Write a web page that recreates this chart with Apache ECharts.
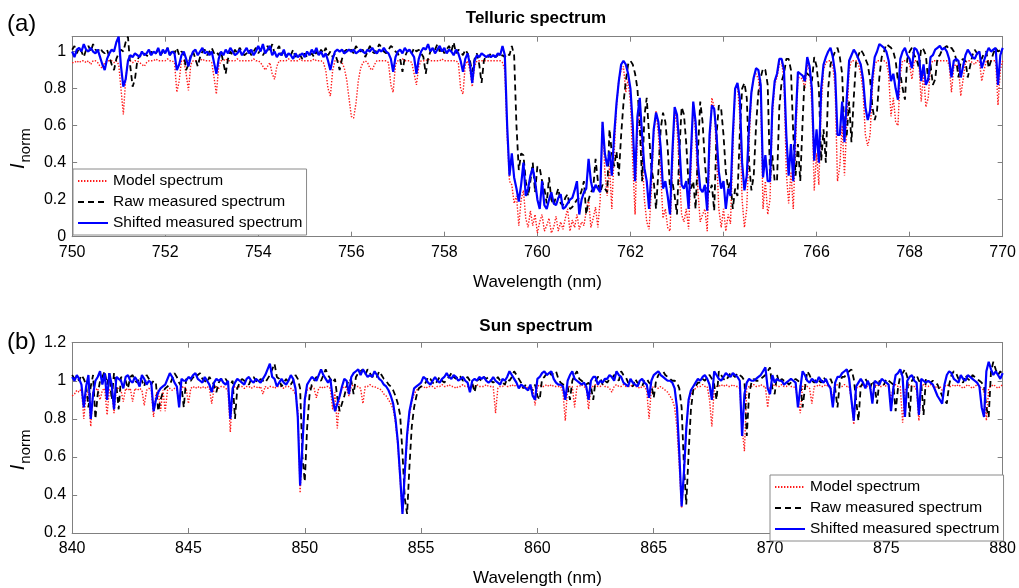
<!DOCTYPE html>
<html>
<head>
<meta charset="utf-8">
<script src="https://cdn.jsdelivr.net/npm/echarts@6/dist/echarts.min.js"></script>
<style>html,body{margin:0;padding:0;background:#fff}#c{width:1019px;height:588px}</style>
</head>
<body>
<div id="c"></div>
<script>
// ---------- DATA ----------
const seriesNames = ['Model spectrum', 'Raw measured spectrum', 'Shifted measured spectrum'];

// Panel (a) Telluric spectrum: sampled every 0.05 nm from 750 to 770 nm
const telluricStart = 750, telluricStep = 0.05;
const telluricXTicks = [750, 770, 2];
const telluricYTicks = [0, 1.08, 0.2];
const telluricModel = [
0.94,0.94,0.95,0.94,0.95,0.95,0.94,0.95,0.93,0.95,0.95,0.94,0.92,0.91,0.94,0.95,0.95,0.95,0.94,0.95,
0.93,0.80,0.66,0.85,0.95,0.95,0.94,0.95,0.95,0.94,0.93,0.92,0.94,0.95,0.95,0.95,0.96,0.95,0.95,0.95,
0.95,0.96,0.95,0.95,0.94,0.78,0.84,0.95,0.95,0.88,0.79,0.93,0.95,0.95,0.95,0.95,0.96,0.95,0.95,0.95,
0.94,0.86,0.77,0.92,0.95,0.95,0.96,0.95,0.95,0.95,0.95,0.96,0.95,0.95,0.95,0.95,0.95,0.95,0.96,0.95,
0.95,0.94,0.92,0.90,0.92,0.94,0.88,0.85,0.92,0.95,0.95,0.95,0.95,0.96,0.95,0.95,0.95,0.95,0.96,0.95,
0.95,0.95,0.95,0.95,0.96,0.95,0.95,0.95,0.94,0.90,0.80,0.76,0.90,0.95,0.95,0.95,0.94,0.91,0.85,0.75,
0.65,0.64,0.72,0.84,0.91,0.94,0.95,0.94,0.91,0.90,0.93,0.95,0.95,0.95,0.95,0.95,0.94,0.82,0.78,0.93,
0.95,0.95,0.96,0.95,0.95,0.95,0.94,0.88,0.82,0.92,0.95,0.95,0.95,0.96,0.95,0.95,0.95,0.95,0.95,0.96,
0.95,0.95,0.95,0.95,0.95,0.95,0.94,0.80,0.77,0.93,0.95,0.90,0.81,0.92,0.95,0.95,0.95,0.95,0.95,0.95,
0.95,0.95,0.95,0.95,0.95,0.94,0.90,0.55,0.30,0.28,0.18,0.22,0.06,0.20,0.25,0.10,0.05,0.14,0.06,0.12,
0.02,0.08,0.12,0.03,0.06,0.10,0.02,0.05,0.11,0.03,0.08,0.04,0.10,0.15,0.03,0.09,0.05,0.12,0.04,0.08,
0.06,0.14,0.20,0.05,0.10,0.16,0.05,0.20,0.62,0.35,0.22,0.38,0.15,0.45,0.70,0.85,0.90,0.92,0.78,0.85,
0.72,0.40,0.12,0.55,0.70,0.45,0.20,0.08,0.04,0.25,0.55,0.68,0.55,0.35,0.10,0.15,0.05,0.03,0.35,0.68,
0.60,0.35,0.12,0.08,0.15,0.04,0.35,0.73,0.55,0.25,0.08,0.12,0.15,0.03,0.45,0.75,0.70,0.45,0.15,0.05,
0.15,0.03,0.12,0.07,0.45,0.80,0.82,0.65,0.20,0.05,0.15,0.50,0.78,0.86,0.88,0.85,0.75,0.15,0.30,0.12,
0.20,0.65,0.82,0.86,0.93,0.94,0.85,0.35,0.18,0.35,0.15,0.50,0.86,0.86,0.85,0.80,0.93,0.90,0.70,0.25,
0.45,0.28,0.70,0.90,0.94,0.95,0.95,0.92,0.80,0.30,0.38,0.60,0.33,0.62,0.90,0.95,0.95,0.95,0.93,0.88,
0.78,0.55,0.49,0.55,0.80,0.93,0.95,0.95,0.95,0.95,0.94,0.88,0.65,0.75,0.62,0.60,0.88,0.95,0.95,0.95,
0.93,0.85,0.95,0.95,0.93,0.73,0.88,0.70,0.75,0.93,0.95,0.95,0.95,0.95,0.95,0.95,0.95,0.93,0.78,0.92,
0.93,0.92,0.76,0.85,0.94,0.95,0.95,0.94,0.93,0.95,0.95,0.84,0.90,0.95,0.95,0.95,0.95,0.95,0.71,0.90,
0.95];
const telluricRaw = [
1.01,1.03,0.99,1.02,1.00,0.97,1.01,1.03,1.00,1.04,1.01,1.00,1.02,1.00,0.99,1.01,0.97,0.93,0.90,0.96,
0.99,1.01,1.00,1.05,1.08,0.92,0.81,0.85,0.95,0.98,0.97,0.99,0.98,0.97,1.00,0.98,0.99,1.01,0.98,1.00,
0.99,1.02,0.98,1.01,0.99,1.02,0.98,1.00,0.99,0.90,0.93,0.98,1.00,0.96,0.92,0.97,1.00,1.01,0.98,1.00,
1.02,0.99,1.00,0.98,1.00,0.94,0.88,0.96,1.00,0.98,1.01,0.99,1.02,1.00,0.98,0.99,1.01,0.98,1.00,1.02,
0.99,1.01,0.98,1.00,1.03,1.00,1.04,0.99,1.01,1.03,0.98,1.00,0.97,0.99,0.98,1.01,0.97,0.99,0.98,0.96,
0.99,0.97,0.98,0.99,0.97,1.00,0.98,1.01,0.99,1.02,0.98,1.00,0.97,0.99,0.95,0.90,0.96,1.00,1.01,1.00,
1.01,0.99,1.03,1.01,1.00,1.01,0.97,1.00,1.03,1.00,0.99,1.01,1.04,1.02,1.00,0.99,1.01,1.03,1.02,1.00,
0.99,0.96,0.89,0.97,1.00,1.01,0.99,1.02,1.00,1.01,0.99,0.97,0.88,0.96,1.00,1.02,1.01,1.04,1.00,1.02,
0.99,1.01,1.03,1.00,1.05,0.99,1.01,1.00,0.98,1.01,0.99,0.95,0.89,0.96,0.99,0.93,0.83,0.95,0.98,0.97,
0.99,0.98,0.97,0.98,0.97,0.98,0.97,0.99,0.98,1.03,0.98,0.60,0.36,0.45,0.44,0.30,0.22,0.30,0.40,0.24,
0.38,0.37,0.30,0.26,0.18,0.32,0.20,0.17,0.22,0.26,0.18,0.17,0.21,0.23,0.15,0.16,0.18,0.20,0.21,0.25,
0.30,0.12,0.20,0.24,0.26,0.42,0.30,0.24,0.28,0.26,0.24,0.58,0.45,0.38,0.46,0.33,0.55,0.72,0.84,0.93,
0.95,0.93,0.88,0.80,0.60,0.30,0.65,0.75,0.55,0.37,0.30,0.15,0.35,0.58,0.67,0.62,0.48,0.26,0.30,0.22,
0.12,0.45,0.70,0.66,0.50,0.28,0.26,0.30,0.15,0.45,0.73,0.62,0.40,0.26,0.24,0.28,0.14,0.55,0.71,0.69,
0.55,0.35,0.26,0.30,0.15,0.26,0.22,0.55,0.80,0.83,0.75,0.40,0.25,0.33,0.60,0.78,0.86,0.91,0.90,0.82,
0.32,0.44,0.30,0.30,0.70,0.84,0.88,0.96,0.96,0.90,0.55,0.33,0.50,0.30,0.62,0.89,0.88,0.87,0.84,0.97,
0.92,0.80,0.41,0.58,0.40,0.80,0.93,0.97,1.00,1.02,0.97,0.88,0.55,0.55,0.73,0.51,0.75,0.95,0.98,1.01,
0.99,0.96,0.93,0.85,0.70,0.63,0.68,0.86,0.97,1.00,1.04,1.03,1.02,1.00,0.95,0.84,0.88,0.80,0.74,0.96,
1.00,1.02,0.98,0.96,0.91,1.02,1.01,0.98,0.84,0.93,0.82,0.85,0.97,0.98,1.01,1.02,1.03,1.01,1.02,1.00,
0.96,0.86,0.95,0.96,0.95,0.86,0.92,0.98,1.01,0.99,0.97,0.96,0.99,1.00,0.91,0.95,0.99,1.02,1.00,1.01,
1.02];
const telluricShifted = [
1.00,0.97,1.01,1.02,1.00,1.04,1.01,1.00,1.02,1.00,0.99,1.01,0.97,0.93,0.90,0.96,0.99,1.01,1.00,1.05,
1.08,0.92,0.81,0.85,0.95,0.98,0.97,0.99,0.98,0.97,1.00,0.98,0.99,1.01,0.98,1.00,0.99,1.02,0.98,1.01,
0.99,1.02,0.98,1.00,0.99,0.90,0.93,0.98,1.00,0.96,0.92,0.97,1.00,1.01,0.98,1.00,1.02,0.99,1.00,0.98,
1.00,0.94,0.88,0.96,1.00,0.98,1.01,0.99,1.02,1.00,0.98,0.99,1.01,0.98,1.00,1.02,0.99,1.01,0.98,1.00,
1.03,1.00,1.04,0.99,1.01,1.03,0.98,1.00,0.97,0.99,0.98,1.01,0.97,0.99,0.98,0.96,0.99,0.97,0.98,0.99,
0.97,1.00,0.98,1.01,0.99,1.02,0.98,1.00,0.97,0.99,0.95,0.90,0.96,1.00,1.01,1.00,1.01,0.99,1.00,1.01,
1.00,1.01,0.99,1.00,1.01,1.00,0.99,1.01,1.00,1.02,1.00,0.99,1.01,1.00,1.02,1.00,0.99,0.96,0.89,0.97,
1.00,1.01,0.99,1.02,1.00,1.01,0.99,0.97,0.88,0.96,1.00,1.02,1.01,1.04,1.00,1.02,0.99,1.01,1.03,1.00,
1.02,0.99,1.01,1.00,0.98,1.01,0.99,0.95,0.89,0.96,0.99,0.93,0.83,0.95,0.98,0.97,0.99,0.98,0.97,0.98,
0.97,0.98,0.97,0.99,0.98,1.03,0.98,0.60,0.33,0.45,0.32,0.26,0.19,0.28,0.40,0.22,0.26,0.33,0.37,0.30,
0.20,0.15,0.30,0.17,0.15,0.20,0.24,0.18,0.17,0.21,0.23,0.15,0.16,0.18,0.20,0.21,0.25,0.30,0.12,0.20,
0.24,0.26,0.42,0.30,0.24,0.28,0.26,0.24,0.62,0.45,0.38,0.46,0.33,0.55,0.72,0.84,0.93,0.95,0.93,0.88,
0.80,0.60,0.30,0.65,0.75,0.55,0.37,0.30,0.15,0.35,0.58,0.67,0.62,0.48,0.26,0.30,0.22,0.12,0.45,0.70,
0.66,0.50,0.28,0.26,0.30,0.15,0.45,0.73,0.62,0.40,0.26,0.24,0.28,0.14,0.55,0.71,0.69,0.55,0.35,0.26,
0.30,0.15,0.26,0.22,0.55,0.80,0.83,0.75,0.40,0.25,0.33,0.60,0.78,0.86,0.91,0.90,0.82,0.32,0.44,0.30,
0.30,0.70,0.84,0.88,0.96,0.96,0.90,0.55,0.33,0.50,0.30,0.62,0.89,0.88,0.87,0.84,0.97,0.92,0.80,0.41,
0.58,0.40,0.80,0.93,0.97,1.00,1.02,0.97,0.88,0.55,0.55,0.73,0.51,0.75,0.95,0.98,1.01,0.99,0.96,0.93,
0.85,0.70,0.63,0.68,0.86,0.97,1.00,1.04,1.03,1.02,1.00,0.95,0.84,0.88,0.80,0.74,0.96,1.00,1.02,0.98,
0.96,0.91,1.02,1.01,0.98,0.84,0.93,0.82,0.85,0.97,0.98,1.01,1.02,1.03,1.01,1.02,1.00,0.96,0.86,0.95,
0.96,0.95,0.86,0.92,0.98,1.01,0.99,0.97,0.96,0.99,1.00,0.91,0.95,0.99,1.02,1.00,1.01,1.02,0.82,0.98,
1.02];

// Panel (b) Sun spectrum: sampled every 0.1 nm from 840 to 880 nm
const sunStart = 840, sunStep = 0.1;
const sunXTicks = [840, 880, 5];
const sunYTicks = [0.2, 1.2, 0.2];
const sunModel = [
0.92,0.93,0.95,0.94,0.96,0.80,0.93,0.94,0.76,0.95,
0.95,0.96,0.90,0.95,0.96,0.82,0.95,0.96,0.83,0.96,
0.96,0.95,0.89,0.96,0.95,0.96,0.89,0.96,0.95,0.96,
0.95,0.87,0.95,0.96,0.95,0.81,0.93,0.95,0.84,0.95,
0.84,0.95,0.96,0.95,0.96,0.95,0.89,0.96,0.97,0.96,
0.88,0.96,0.97,0.96,0.97,0.96,0.97,0.96,0.97,0.96,
0.88,0.96,0.97,0.96,0.97,0.97,0.96,0.95,0.73,0.95,
0.97,0.96,0.97,0.97,0.96,0.97,0.97,0.96,0.97,0.97,
0.96,0.97,0.93,0.97,0.96,0.97,0.97,0.96,0.97,0.97,
0.97,0.96,0.97,0.97,0.96,0.95,0.93,0.85,0.41,0.70,
0.90,0.95,0.96,0.97,0.96,0.91,0.96,0.97,0.96,0.97,
0.97,0.96,0.85,0.94,0.75,0.92,0.96,0.97,0.96,0.92,
0.97,0.98,0.97,0.97,0.96,0.88,0.97,0.97,0.98,0.97,
0.97,0.96,0.96,0.95,0.93,0.92,0.90,0.88,0.85,0.78,
0.66,0.48,0.30,0.50,0.70,0.82,0.89,0.93,0.95,0.96,
0.97,0.97,0.96,0.97,0.97,0.97,0.96,0.97,0.97,0.98,
0.97,0.97,0.98,0.97,0.97,0.96,0.97,0.97,0.98,0.97,
0.97,0.96,0.97,0.97,0.98,0.97,0.97,0.97,0.98,0.97,
0.97,0.97,0.83,0.96,0.97,0.97,0.98,0.97,0.97,0.98,
0.97,0.98,0.97,0.97,0.96,0.97,0.96,0.97,0.96,0.87,
0.97,0.98,0.97,0.97,0.98,0.97,0.98,0.97,0.97,0.97,
0.97,0.94,0.79,0.96,0.97,0.97,0.86,0.97,0.97,0.98,
0.97,0.96,0.85,0.97,0.97,0.98,0.97,0.97,0.98,0.97,
0.97,0.96,0.94,0.97,0.98,0.97,0.97,0.98,0.97,0.97,
0.97,0.98,0.97,0.97,0.96,0.97,0.97,0.95,0.80,0.96,
0.97,0.97,0.96,0.97,0.96,0.95,0.94,0.92,0.90,0.86,
0.75,0.55,0.33,0.50,0.75,0.88,0.93,0.95,0.96,0.97,
0.97,0.98,0.97,0.97,0.90,0.76,0.96,0.97,0.97,0.98,
0.97,0.98,0.97,0.97,0.98,0.97,0.97,0.96,0.75,0.63,
0.96,0.97,0.97,0.98,0.97,0.97,0.98,0.97,0.97,0.86,
0.97,0.97,0.98,0.97,0.97,0.98,0.97,0.97,0.98,0.97,
0.97,0.96,0.90,0.83,0.97,0.98,0.97,0.96,0.88,0.97,
0.97,0.98,0.97,0.97,0.98,0.97,0.97,0.90,0.97,0.98,
0.97,0.97,0.98,0.97,0.97,0.90,0.77,0.96,0.97,0.97,
0.98,0.97,0.97,0.97,0.92,0.97,0.98,0.97,0.97,0.98,
0.97,0.97,0.90,0.97,0.98,0.97,0.97,0.78,0.95,0.97,
0.98,0.97,0.97,0.95,0.79,0.97,0.98,0.97,0.97,0.98,
0.97,0.97,0.96,0.97,0.95,0.97,0.98,0.97,0.97,0.98,
0.97,0.98,0.97,0.96,0.97,0.98,0.97,0.96,0.97,0.98,
0.97,0.96,0.95,0.79,0.96,0.97,0.98,0.97,0.96,0.97,
0.98];
const sunRaw = [
1.03,1.01,1.02,1.00,1.03,1.01,0.98,0.86,0.97,1.03,
0.80,0.93,1.00,1.02,1.05,0.98,1.04,0.90,1.04,0.98,
0.85,1.02,1.01,1.00,0.96,1.02,1.03,1.00,0.99,1.02,
1.00,0.97,1.03,1.01,0.98,1.00,0.99,0.84,0.90,0.94,
0.96,0.97,0.98,1.01,1.04,1.02,0.99,0.97,0.86,1.01,
1.00,1.00,1.02,1.01,1.03,1.04,1.01,1.00,0.99,1.02,
1.00,0.98,0.94,0.99,1.01,1.00,1.01,0.99,0.98,1.00,
0.80,0.96,0.99,1.01,1.00,0.99,0.98,1.01,1.02,1.00,
0.99,1.01,1.00,0.99,1.01,1.03,1.06,1.09,1.02,1.01,
0.97,0.99,1.01,0.99,0.98,1.00,1.03,1.01,0.96,0.60,
0.47,0.75,0.92,0.98,1.00,1.02,1.01,1.00,1.03,1.06,
1.03,1.01,0.99,1.01,0.91,0.84,0.88,0.92,0.97,1.01,
1.00,0.93,1.02,1.04,1.05,1.06,1.03,1.06,1.04,1.02,
1.03,1.02,1.05,1.03,1.01,1.00,0.98,0.97,0.95,0.92,
0.88,0.82,0.62,0.38,0.30,0.55,0.76,0.86,0.92,0.96,
0.97,0.98,0.99,1.02,1.01,0.99,0.98,1.00,1.02,1.00,
0.99,1.01,1.02,1.04,1.02,1.01,1.03,1.02,1.00,1.01,
1.02,1.00,0.99,0.94,1.00,1.01,1.00,1.02,1.01,1.02,
1.00,0.99,1.00,1.02,1.00,0.99,0.98,1.01,1.00,1.02,
1.05,1.03,1.01,0.99,0.96,0.98,0.97,0.96,0.95,0.98,
0.92,0.90,1.01,1.02,1.04,1.05,1.03,1.04,1.05,1.01,
0.99,0.98,0.98,0.97,0.90,1.00,1.03,1.05,1.01,1.00,
0.99,0.98,0.99,0.97,0.90,1.00,1.02,1.02,0.98,1.00,
0.99,1.01,1.01,1.03,1.02,1.00,1.05,1.03,1.02,0.99,
0.98,0.97,1.01,0.99,0.98,0.97,1.00,1.01,0.99,0.98,
0.91,1.00,1.03,1.04,1.05,1.03,1.02,1.01,1.00,1.00,
0.99,0.96,0.86,0.55,0.35,0.62,0.85,0.95,0.97,0.99,
0.99,1.01,1.00,1.02,1.03,1.01,0.98,0.90,1.05,1.03,
1.01,1.00,1.02,1.04,1.03,1.02,1.04,1.03,1.02,1.00,
0.71,0.93,0.99,1.01,1.00,1.00,1.01,1.02,1.03,1.05,
1.07,0.96,0.93,1.03,0.99,1.01,1.00,1.00,0.98,0.99,
1.00,1.01,1.00,0.99,0.86,0.96,1.05,1.03,1.00,0.99,
1.01,1.00,0.99,1.02,1.00,0.99,1.01,0.98,0.96,0.86,
0.99,1.02,1.02,1.04,1.05,1.06,1.01,0.90,0.79,0.97,
0.99,1.01,0.99,0.96,1.00,0.97,0.88,1.00,0.99,0.98,
1.01,1.00,0.99,0.98,0.84,0.96,1.03,1.04,1.06,1.02,
0.81,1.00,1.02,1.03,1.00,0.99,0.82,1.01,1.00,0.99,
1.00,0.99,0.98,0.95,0.92,0.90,0.88,0.98,1.03,1.05,
1.04,1.01,1.00,0.99,1.03,1.01,1.00,1.03,1.02,1.01,
1.00,0.99,0.97,0.86,0.81,1.05,1.10,1.06,1.03,1.05,
1.03];
const sunShifted = [
1.02,1.00,1.03,1.01,0.98,0.86,0.97,1.03,0.80,0.93,
1.00,1.02,1.05,0.98,1.04,0.90,1.04,0.98,0.85,1.02,
1.01,1.00,0.96,1.02,1.03,1.00,0.99,1.02,1.00,0.97,
1.03,1.01,0.98,1.00,0.99,0.84,0.90,0.94,0.96,0.97,
0.98,1.01,1.04,1.02,0.99,0.97,0.86,1.01,1.00,1.00,
1.02,1.01,1.03,1.04,1.01,1.00,0.99,1.02,1.00,0.98,
0.94,0.99,1.01,1.00,1.01,0.99,0.98,1.00,0.80,0.96,
0.99,1.01,1.00,0.99,0.98,1.01,1.02,1.00,0.99,1.01,
1.00,0.99,1.01,1.03,1.06,1.09,1.02,1.01,0.97,0.99,
1.01,0.99,0.98,1.00,1.03,1.01,0.96,0.81,0.45,0.66,
0.90,0.98,1.00,1.02,1.01,1.00,1.03,1.06,1.03,1.01,
0.99,1.01,0.91,0.84,0.88,0.92,0.97,1.01,1.00,0.93,
1.02,1.04,1.05,1.06,1.03,1.06,1.04,1.02,1.03,1.02,
1.05,1.03,1.01,1.00,0.98,0.97,0.95,0.92,0.88,0.80,
0.68,0.50,0.30,0.52,0.72,0.84,0.90,0.96,0.97,0.98,
0.99,1.02,1.01,0.99,0.98,1.00,1.02,1.00,0.99,1.01,
1.02,1.04,1.02,1.01,1.03,1.02,1.00,1.01,1.02,1.00,
0.99,0.94,1.00,1.01,1.00,1.02,1.01,1.02,1.00,0.99,
1.00,1.02,1.00,0.99,0.98,1.01,1.00,1.02,1.05,1.03,
1.01,0.99,0.96,0.98,0.97,0.96,0.95,0.98,0.92,0.90,
1.01,1.02,1.04,1.05,1.03,1.04,1.05,1.01,0.99,0.98,
0.98,0.97,0.90,1.00,1.03,1.05,1.01,1.00,0.99,0.98,
0.99,0.97,0.90,1.00,1.02,1.02,0.98,1.00,0.99,1.01,
1.01,1.03,1.02,1.00,1.05,1.03,1.02,0.99,0.98,0.97,
1.01,0.99,0.98,0.97,1.00,1.01,0.99,0.98,0.91,1.00,
1.03,1.04,1.05,1.03,1.02,1.01,1.00,1.00,0.99,0.96,
0.86,0.62,0.34,0.52,0.75,0.90,0.95,0.97,0.99,1.01,
1.00,1.02,1.03,1.01,0.98,0.90,1.05,1.03,1.01,1.00,
1.02,1.04,1.03,1.02,1.04,1.03,1.02,1.00,0.71,0.93,
0.99,1.01,1.00,1.00,1.01,1.02,1.03,1.05,1.07,0.96,
0.93,1.03,0.99,1.01,1.00,1.00,0.98,0.99,1.00,1.01,
1.00,0.99,0.86,0.96,1.05,1.03,1.00,0.99,1.01,1.00,
0.99,1.02,1.00,0.99,1.01,0.98,0.96,0.86,0.99,1.02,
1.02,1.04,1.05,1.06,1.01,0.90,0.79,0.97,0.99,1.01,
0.99,0.96,1.00,0.97,0.88,1.00,0.99,0.98,1.01,1.00,
0.99,0.98,0.84,0.96,1.03,1.04,1.06,1.02,0.81,1.00,
1.02,1.03,1.00,0.99,0.82,1.01,1.00,0.99,1.00,0.99,
0.98,0.95,0.92,0.90,0.88,0.98,1.03,1.05,1.04,1.01,
1.00,0.99,1.03,1.01,1.00,1.03,1.02,1.01,1.00,0.99,
0.97,0.86,0.81,1.05,1.10,1.06,1.03,1.05,1.03,1.01,
1.04];

// ---------- CHART ----------
const FONT = 'Arial, "Liberation Sans", Helvetica, sans-serif';
const AXIS_COLOR = '#808080';

function toPairs(start, step, values) {
  return values.map((v, i) => [+(start + i * step).toFixed(3), v]);
}

function isTick(v, base, step) {
  const k = (v - base) / step;
  return Math.abs(k - Math.round(k)) < 1e-6;
}

function xAxes(gridIndex, t) {
  const common = {
    type: 'value', gridIndex, min: t[0], max: t[1], interval: t[2],
    axisLine: { show: true, onZero: false, lineStyle: { color: AXIS_COLOR, width: 1 } },
    axisTick: { show: true, inside: true, length: 5, lineStyle: { color: AXIS_COLOR } },
    splitLine: { show: false }
  };
  return [
    Object.assign({}, common, {
      position: 'bottom',
      axisLabel: { color: '#000', fontSize: 16, fontFamily: FONT, margin: 8 },
      name: 'Wavelength (nm)', nameLocation: 'middle', nameGap: 37,
      nameTextStyle: { color: '#000', fontSize: 17, fontFamily: FONT }
    }),
    Object.assign({}, common, { position: 'top', axisLabel: { show: false } })
  ];
}

function yAxes(gridIndex, t) {
  const common = {
    type: 'value', gridIndex, min: t[0], max: t[1], interval: t[2],
    axisLine: { show: true, onZero: false, lineStyle: { color: AXIS_COLOR, width: 1 } },
    axisTick: { show: true, inside: true, length: 5, lineStyle: { color: AXIS_COLOR } },
    splitLine: { show: false }
  };
  return [
    Object.assign({}, common, {
      position: 'left',
      axisLabel: {
        color: '#000', fontSize: 16, fontFamily: FONT, margin: 6,
        formatter: v => isTick(v, 0, t[2]) ? String(+v.toFixed(1)) : ''
      },
      name: '{i|I}{s|norm}', nameLocation: 'middle', nameRotate: 90, nameGap: 33,
      nameTextStyle: {
        padding: [0, 24, 0, 0],
        rich: {
          i: { fontSize: 20, fontStyle: 'italic', fontFamily: FONT, color: '#000', padding: [0, 1, 6, 0] },
          s: { fontSize: 15, fontFamily: FONT, color: '#000', padding: [9, 0, 0, 0] }
        }
      }
    }),
    Object.assign({}, common, { position: 'right', axisLabel: { show: false } })
  ];
}

const styles = [
  { color: '#ff1a1a', width: 1.4, type: [1.4, 1.6] },
  { color: '#000000', width: 1.8, type: [6, 4] },
  { color: '#0000ff', width: 2.2, type: 'solid' }
];

function panelSeries(xIdx, yIdx, start, step, arrays) {
  return arrays.map((arr, k) => ({
    type: 'line', name: seriesNames[k], xAxisIndex: xIdx, yAxisIndex: yIdx,
    data: toPairs(start, step, arr), showSymbol: false, symbol: 'none',
    lineStyle: styles[k], itemStyle: { color: styles[k].color },
    animation: false, silent: true, z: 2 + k
  }));
}

const legendCommon = {
  orient: 'vertical', data: seriesNames, selectedMode: false,
  itemWidth: 30, itemHeight: 12, itemGap: 5, padding: [4, 4, 4, 4],
  backgroundColor: '#fff', borderColor: '#8a8a8a', borderWidth: 1, borderRadius: 0,
  itemStyle: { opacity: 0, borderWidth: 0 },
  textStyle: { fontSize: 15.5, fontFamily: FONT, color: '#000' }
};

const option = {
  backgroundColor: '#fff',
  animation: false,
  title: [
    { text: 'Telluric spectrum', left: 536, top: 10, textAlign: 'center', padding: 0,
      textStyle: { fontSize: 17, fontWeight: 'bold', fontFamily: FONT, color: '#000' } },
    { text: 'Sun spectrum', left: 536, top: 318, textAlign: 'center', padding: 0,
      textStyle: { fontSize: 17, fontWeight: 'bold', fontFamily: FONT, color: '#000' } },
    { text: '(a)', left: 7, top: 12, padding: 0,
      textStyle: { fontSize: 24, fontWeight: 'normal', fontFamily: FONT, color: '#000' } },
    { text: '(b)', left: 7, top: 330, padding: 0,
      textStyle: { fontSize: 24, fontWeight: 'normal', fontFamily: FONT, color: '#000' } }
  ],
  grid: [
    { left: 70.7, top: 36.7, width: 932, height: 200 },
    { left: 70.3, top: 342.7, width: 932.4, height: 199.3 }
  ],
  xAxis: [].concat(xAxes(0, telluricXTicks), xAxes(1, sunXTicks)),
  yAxis: [].concat(yAxes(0, telluricYTicks), yAxes(1, sunYTicks)),
  legend: [
    Object.assign({}, legendCommon, { left: 73, top: 169 }),
    Object.assign({}, legendCommon, { left: 770, top: 475 })
  ],
  series: [].concat(
    panelSeries(0, 0, telluricStart, telluricStep, [telluricModel, telluricRaw, telluricShifted]),
    panelSeries(2, 2, sunStart, sunStep, [sunModel, sunRaw, sunShifted])
  )
};

const chart = echarts.init(document.getElementById('c'), null, { renderer: 'canvas' });
chart.setOption(option);
</script>
</body>
</html>
